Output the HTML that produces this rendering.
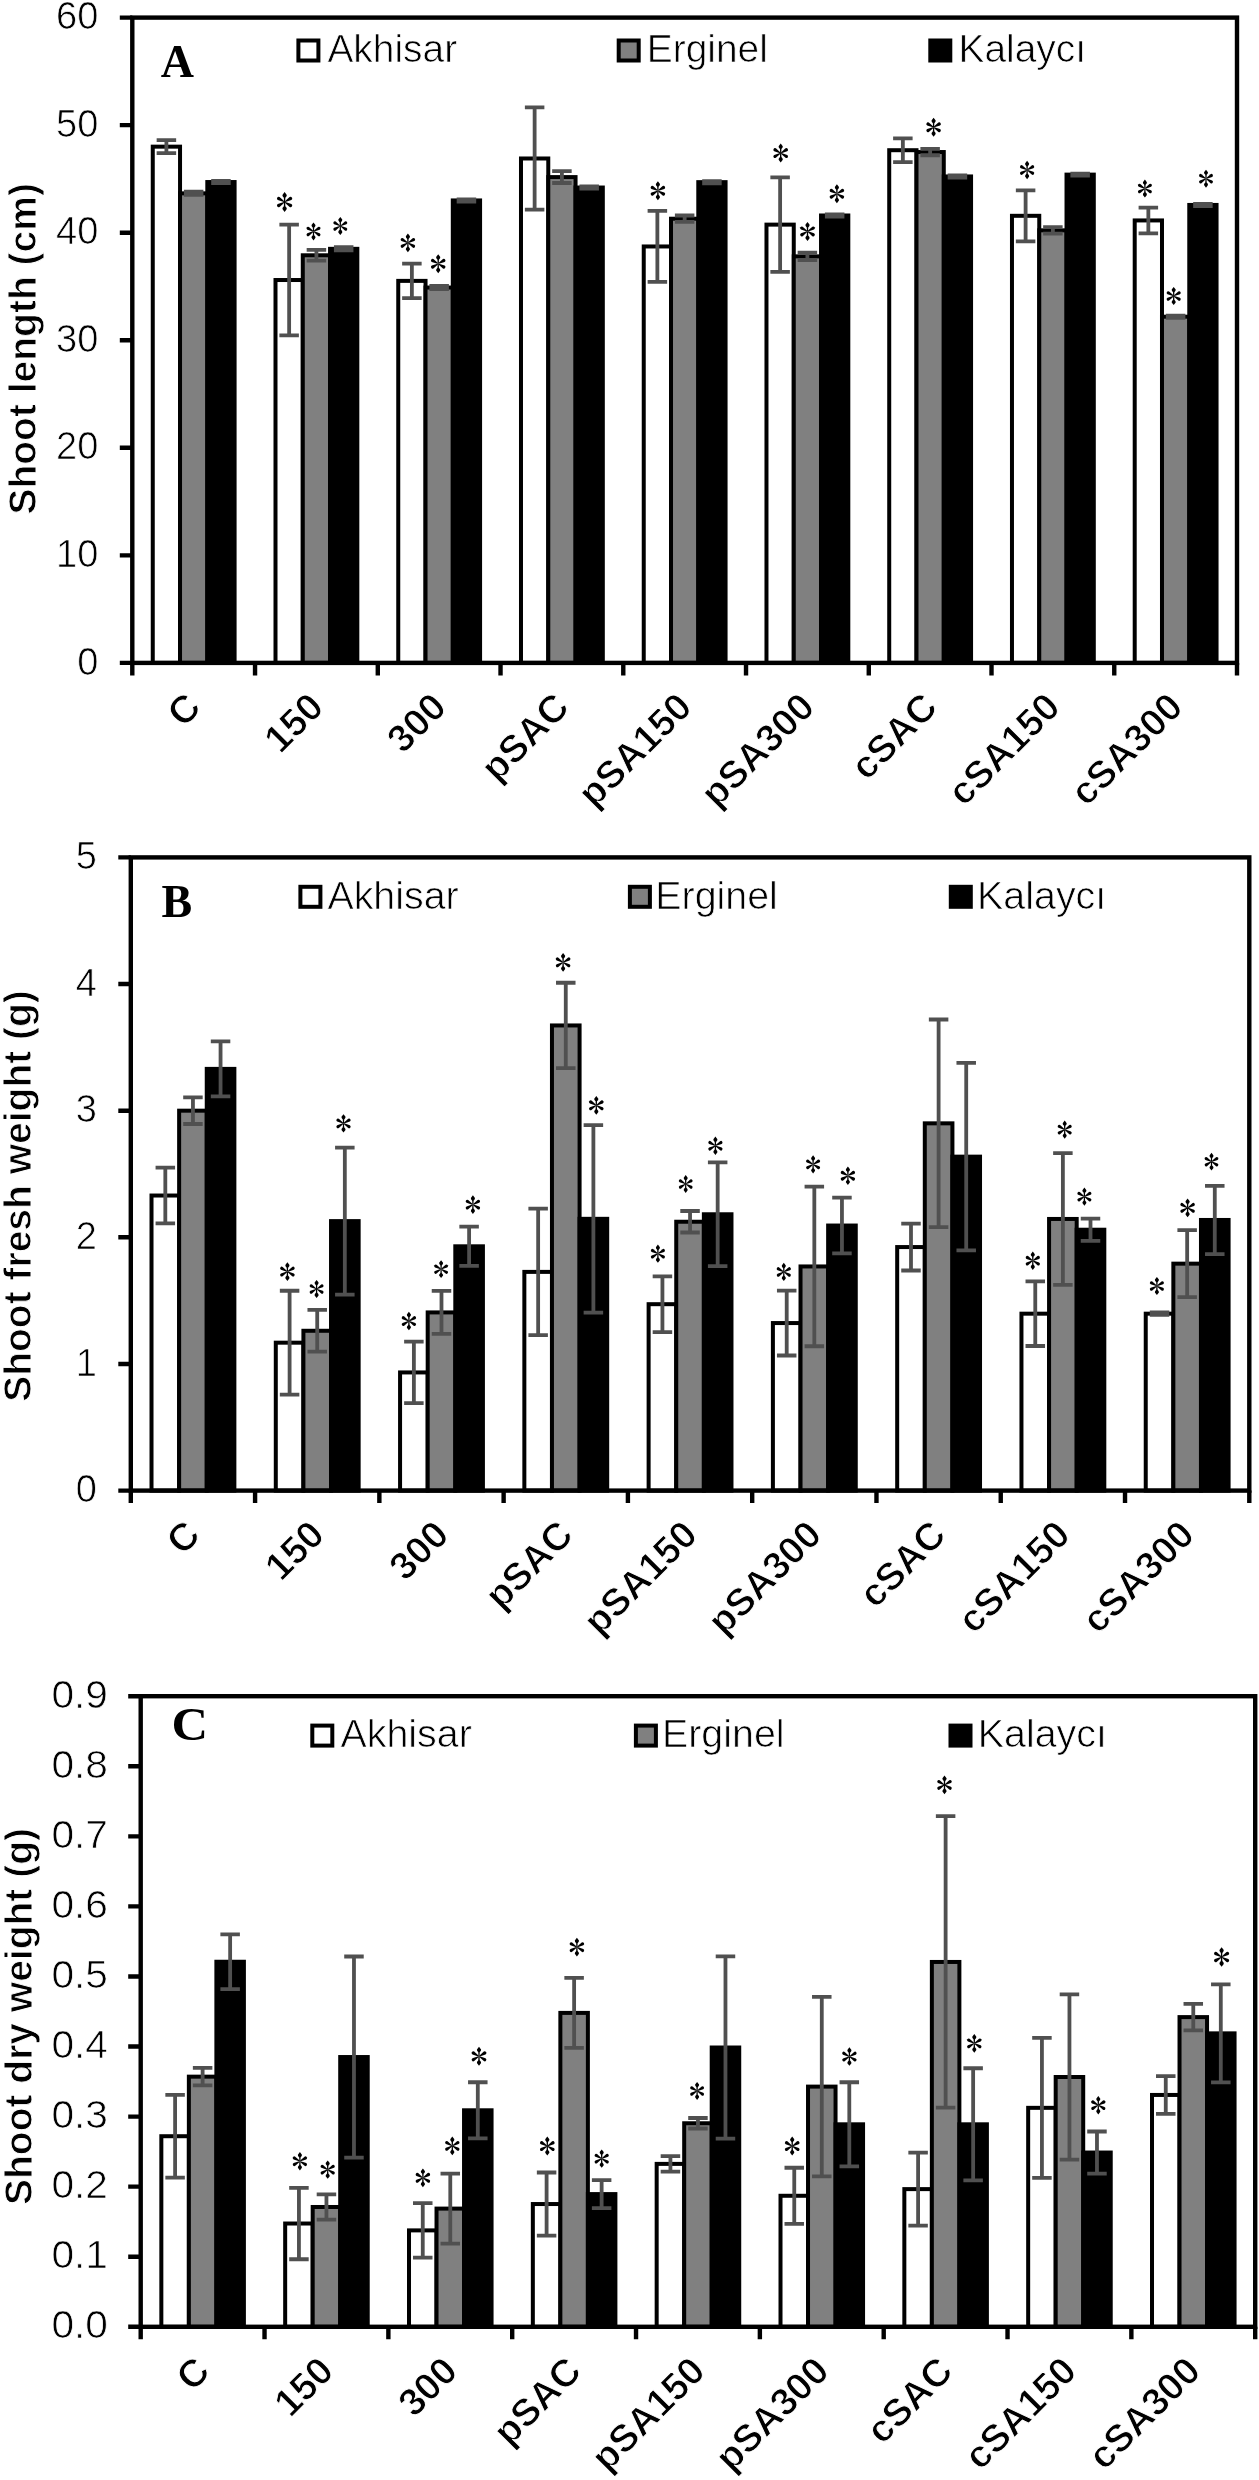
<!DOCTYPE html><html><head><meta charset="utf-8"><style>html,body{margin:0;padding:0;background:#fff;width:1259px;height:2480px;overflow:hidden}svg{display:block;filter:grayscale(1)}</style></head><body>
<svg width="1259" height="2480" viewBox="0 0 1259 2480">
<defs><g id="ast"><path d="M-0.6,0 L-0.75,-4.2 Q-2.5,-5.8 -2.2,-7.1 L0,-10 L2.2,-7.1 Q2.5,-5.8 0.75,-4.2 L0.6,0 Z"/><path d="M-0.6,0 L-0.75,4.2 Q-2.5,5.8 -2.2,7.1 L0,10 L2.2,7.1 Q2.5,5.8 0.75,4.2 L0.6,0 Z"/><path id="arm" d="M0.6,-0.45 L6.9,-1.75 A1.75,1.75 0 0 1 6.9,1.75 L0.6,0.45 Z" transform="rotate(-30.3)"/><use href="#arm" transform="scale(-1,1)"/><use href="#arm" transform="scale(1,-1)"/><use href="#arm" transform="scale(-1,-1)"/></g></defs>
<g id="panelA"><rect x="152.76" y="146.66" width="27.28" height="516.24" fill="#fff" stroke="#000" stroke-width="4"/><rect x="275.5" y="280.02" width="27.28" height="382.88" fill="#fff" stroke="#000" stroke-width="4"/><rect x="398.25" y="280.88" width="27.28" height="382.02" fill="#fff" stroke="#000" stroke-width="4"/><rect x="520.99" y="158.49" width="27.28" height="504.41" fill="#fff" stroke="#000" stroke-width="4"/><rect x="643.74" y="246.47" width="27.28" height="416.43" fill="#fff" stroke="#000" stroke-width="4"/><rect x="766.48" y="224.63" width="27.28" height="438.27" fill="#fff" stroke="#000" stroke-width="4"/><rect x="889.22" y="150.21" width="27.28" height="512.69" fill="#fff" stroke="#000" stroke-width="4"/><rect x="1011.97" y="215.81" width="27.28" height="447.09" fill="#fff" stroke="#000" stroke-width="4"/><rect x="1134.71" y="220.44" width="27.28" height="442.46" fill="#fff" stroke="#000" stroke-width="4"/><path d="M166.4,140.21V153.11M156.65,140.21h19.5M156.65,153.11h19.5" stroke="#505050" stroke-width="3.8" fill="none"/><path d="M289.14,224.63V335.41M279.39,224.63h19.5M279.39,335.41h19.5" stroke="#505050" stroke-width="3.8" fill="none"/><path d="M411.88,263.57V298.2M402.13,263.57h19.5M402.13,298.2h19.5" stroke="#505050" stroke-width="3.8" fill="none"/><path d="M534.63,107.4V209.58M524.88,107.4h19.5M524.88,209.58h19.5" stroke="#505050" stroke-width="3.8" fill="none"/><path d="M657.37,210.97V281.96M647.62,210.97h19.5M647.62,281.96h19.5" stroke="#505050" stroke-width="3.8" fill="none"/><path d="M780.12,177.31V271.96M770.37,177.31h19.5M770.37,271.96h19.5" stroke="#505050" stroke-width="3.8" fill="none"/><path d="M902.86,138.38V162.04M893.11,138.38h19.5M893.11,162.04h19.5" stroke="#505050" stroke-width="3.8" fill="none"/><path d="M1025.61,190.33V241.3M1015.86,190.33h19.5M1015.86,241.3h19.5" stroke="#505050" stroke-width="3.8" fill="none"/><path d="M1148.35,207.53V233.35M1138.6,207.53h19.5M1138.6,233.35h19.5" stroke="#505050" stroke-width="3.8" fill="none"/><rect x="180.03" y="193.34" width="27.28" height="469.56" fill="#808080" stroke="#000" stroke-width="4"/><rect x="302.78" y="255.29" width="27.28" height="407.61" fill="#808080" stroke="#000" stroke-width="4"/><rect x="425.52" y="287.55" width="27.28" height="375.35" fill="#808080" stroke="#000" stroke-width="4"/><rect x="548.27" y="177.1" width="27.28" height="485.8" fill="#808080" stroke="#000" stroke-width="4"/><rect x="671.01" y="218.72" width="27.28" height="444.18" fill="#808080" stroke="#000" stroke-width="4"/><rect x="793.76" y="256.36" width="27.28" height="406.54" fill="#808080" stroke="#000" stroke-width="4"/><rect x="916.5" y="152.04" width="27.28" height="510.86" fill="#808080" stroke="#000" stroke-width="4"/><rect x="1039.25" y="230.33" width="27.28" height="432.57" fill="#808080" stroke="#000" stroke-width="4"/><rect x="1161.99" y="316.7" width="27.28" height="346.2" fill="#808080" stroke="#000" stroke-width="4"/><path d="M193.67,191.72V194.95M183.92,191.72h19.5M183.92,194.95h19.5" stroke="#505050" stroke-width="3.8" fill="none"/><path d="M316.42,249.91V260.66M306.67,249.91h19.5M306.67,260.66h19.5" stroke="#505050" stroke-width="3.8" fill="none"/><path d="M439.16,285.94V289.16M429.41,285.94h19.5M429.41,289.16h19.5" stroke="#505050" stroke-width="3.8" fill="none"/><path d="M561.91,171.18V183.01M552.16,171.18h19.5M552.16,183.01h19.5" stroke="#505050" stroke-width="3.8" fill="none"/><path d="M684.65,215.49V221.94M674.9,215.49h19.5M674.9,221.94h19.5" stroke="#505050" stroke-width="3.8" fill="none"/><path d="M807.39,252.6V260.13M797.64,252.6h19.5M797.64,260.13h19.5" stroke="#505050" stroke-width="3.8" fill="none"/><path d="M930.14,148.81V155.26M920.39,148.81h19.5M920.39,155.26h19.5" stroke="#505050" stroke-width="3.8" fill="none"/><path d="M1052.88,227.11V233.56M1043.13,227.11h19.5M1043.13,233.56h19.5" stroke="#505050" stroke-width="3.8" fill="none"/><path d="M1175.63,315.62V317.77M1165.88,315.62h19.5M1165.88,317.77h19.5" stroke="#505050" stroke-width="3.8" fill="none"/><rect x="207.31" y="182.04" width="27.28" height="480.86" fill="#000" stroke="#000" stroke-width="4"/><rect x="330.05" y="248.83" width="27.28" height="414.07" fill="#000" stroke="#000" stroke-width="4"/><rect x="452.8" y="200.44" width="27.28" height="462.46" fill="#000" stroke="#000" stroke-width="4"/><rect x="575.54" y="187.53" width="27.28" height="475.37" fill="#000" stroke="#000" stroke-width="4"/><rect x="698.29" y="182.15" width="27.28" height="480.75" fill="#000" stroke="#000" stroke-width="4"/><rect x="821.03" y="215.49" width="27.28" height="447.41" fill="#000" stroke="#000" stroke-width="4"/><rect x="943.78" y="176.45" width="27.28" height="486.45" fill="#000" stroke="#000" stroke-width="4"/><rect x="1066.52" y="174.62" width="27.28" height="488.28" fill="#000" stroke="#000" stroke-width="4"/><rect x="1189.27" y="204.95" width="27.28" height="457.95" fill="#000" stroke="#000" stroke-width="4"/><path d="M220.95,180.97V183.12M211.2,180.97h19.5M211.2,183.12h19.5" stroke="#505050" stroke-width="3.8" fill="none"/><path d="M343.69,247.22V250.45M333.94,247.22h19.5M333.94,250.45h19.5" stroke="#505050" stroke-width="3.8" fill="none"/><path d="M466.44,199.36V201.51M456.69,199.36h19.5M456.69,201.51h19.5" stroke="#505050" stroke-width="3.8" fill="none"/><path d="M589.18,186.45V188.6M579.43,186.45h19.5M579.43,188.6h19.5" stroke="#505050" stroke-width="3.8" fill="none"/><path d="M711.93,181.08V183.23M702.18,181.08h19.5M702.18,183.23h19.5" stroke="#505050" stroke-width="3.8" fill="none"/><path d="M834.67,214.42V216.57M824.92,214.42h19.5M824.92,216.57h19.5" stroke="#505050" stroke-width="3.8" fill="none"/><path d="M957.42,175.38V177.53M947.67,175.38h19.5M947.67,177.53h19.5" stroke="#505050" stroke-width="3.8" fill="none"/><path d="M1080.16,173.55V175.7M1070.41,173.55h19.5M1070.41,175.7h19.5" stroke="#505050" stroke-width="3.8" fill="none"/><path d="M1202.9,203.88V206.03M1193.15,203.88h19.5M1193.15,206.03h19.5" stroke="#505050" stroke-width="3.8" fill="none"/><rect x="132.3" y="17.6" width="1104.7" height="645.3" fill="none" stroke="#000" stroke-width="4.4"/><path d="M119.8,662.9H132.3M119.8,555.35H132.3M119.8,447.8H132.3M119.8,340.25H132.3M119.8,232.7H132.3M119.8,125.15H132.3M119.8,17.6H132.3M132.3,662.9V675.4M255.04,662.9V675.4M377.79,662.9V675.4M500.53,662.9V675.4M623.28,662.9V675.4M746.02,662.9V675.4M868.77,662.9V675.4M991.51,662.9V675.4M1114.26,662.9V675.4M1237,662.9V675.4" stroke="#000" stroke-width="4.4" fill="none"/><text transform="translate(98.3,674.5) scale(1.0,1)" font-family="'Liberation Sans', sans-serif" stroke="#fff" stroke-width="0.7" font-size="38" text-anchor="end">0</text><text transform="translate(98.3,566.95) scale(1.0,1)" font-family="'Liberation Sans', sans-serif" stroke="#fff" stroke-width="0.7" font-size="38" text-anchor="end">10</text><text transform="translate(98.3,459.4) scale(1.0,1)" font-family="'Liberation Sans', sans-serif" stroke="#fff" stroke-width="0.7" font-size="38" text-anchor="end">20</text><text transform="translate(98.3,351.85) scale(1.0,1)" font-family="'Liberation Sans', sans-serif" stroke="#fff" stroke-width="0.7" font-size="38" text-anchor="end">30</text><text transform="translate(98.3,244.3) scale(1.0,1)" font-family="'Liberation Sans', sans-serif" stroke="#fff" stroke-width="0.7" font-size="38" text-anchor="end">40</text><text transform="translate(98.3,136.75) scale(1.0,1)" font-family="'Liberation Sans', sans-serif" stroke="#fff" stroke-width="0.7" font-size="38" text-anchor="end">50</text><text transform="translate(98.3,29.2) scale(1.0,1)" font-family="'Liberation Sans', sans-serif" stroke="#fff" stroke-width="0.7" font-size="38" text-anchor="end">60</text><use href="#ast" transform="translate(284.6,202) scale(0.99)"/><use href="#ast" transform="translate(313.5,231.45) scale(0.9)"/><use href="#ast" transform="translate(340.3,226) scale(0.9)"/><use href="#ast" transform="translate(407.9,242.9) scale(0.94)"/><use href="#ast" transform="translate(438.2,263.75) scale(0.94)"/><use href="#ast" transform="translate(657.9,190.75) scale(0.94)"/><use href="#ast" transform="translate(780.7,153.05) scale(0.95)"/><use href="#ast" transform="translate(807.5,231.45) scale(0.95)"/><use href="#ast" transform="translate(836.9,193.75) scale(0.94)"/><use href="#ast" transform="translate(933.6,127.25) scale(0.94)"/><use href="#ast" transform="translate(1027.1,170) scale(0.92)"/><use href="#ast" transform="translate(1144.9,188.55) scale(0.9)"/><use href="#ast" transform="translate(1173.7,296) scale(0.91)"/><use href="#ast" transform="translate(1206,178.65) scale(0.9)"/><text transform="translate(160.8,76.6) scale(1.0,1)" font-family="'Liberation Serif', serif" font-weight="bold" font-size="46">A</text><rect x="298.4" y="40.5" width="20" height="20" fill="#fff" stroke="#000" stroke-width="4"/><text transform="translate(327.4,62.3) scale(1.024,1)" font-family="'Liberation Sans', sans-serif" stroke="#fff" stroke-width="0.7" font-size="38">Akhisar</text><rect x="618.7" y="40.5" width="20" height="20" fill="#808080" stroke="#000" stroke-width="4"/><text transform="translate(646.8,62.3) scale(1.024,1)" font-family="'Liberation Sans', sans-serif" stroke="#fff" stroke-width="0.7" font-size="38">Erginel</text><rect x="930.3" y="40.5" width="20" height="20" fill="#000" stroke="#000" stroke-width="4"/><text transform="translate(958.5,62.3) scale(1.024,1)" font-family="'Liberation Sans', sans-serif" stroke="#fff" stroke-width="0.7" font-size="38">Kalaycı</text><text transform="translate(202.97,709.2) rotate(-45)" font-family="'Liberation Sans', sans-serif" font-weight="bold" stroke="#fff" stroke-width="0.9" font-size="38.5" text-anchor="end">C</text><text transform="translate(325.72,709.2) rotate(-45)" font-family="'Liberation Sans', sans-serif" font-weight="bold" stroke="#fff" stroke-width="0.9" font-size="38.5" text-anchor="end">150</text><text transform="translate(448.46,709.2) rotate(-45)" font-family="'Liberation Sans', sans-serif" font-weight="bold" stroke="#fff" stroke-width="0.9" font-size="38.5" text-anchor="end">300</text><text transform="translate(571.21,709.2) rotate(-45)" font-family="'Liberation Sans', sans-serif" font-weight="bold" stroke="#fff" stroke-width="0.9" font-size="38.5" text-anchor="end">pSAC</text><text transform="translate(693.95,709.2) rotate(-45)" font-family="'Liberation Sans', sans-serif" font-weight="bold" stroke="#fff" stroke-width="0.9" font-size="38.5" text-anchor="end">pSA150</text><text transform="translate(816.69,709.2) rotate(-45)" font-family="'Liberation Sans', sans-serif" font-weight="bold" stroke="#fff" stroke-width="0.9" font-size="38.5" text-anchor="end">pSA300</text><text transform="translate(939.44,709.2) rotate(-45)" font-family="'Liberation Sans', sans-serif" font-weight="bold" stroke="#fff" stroke-width="0.9" font-size="38.5" text-anchor="end">cSAC</text><text transform="translate(1062.18,709.2) rotate(-45)" font-family="'Liberation Sans', sans-serif" font-weight="bold" stroke="#fff" stroke-width="0.9" font-size="38.5" text-anchor="end">cSA150</text><text transform="translate(1184.93,709.2) rotate(-45)" font-family="'Liberation Sans', sans-serif" font-weight="bold" stroke="#fff" stroke-width="0.9" font-size="38.5" text-anchor="end">cSA300</text></g>
<g id="panelB"><rect x="151.51" y="1195.53" width="27.62" height="295.07" fill="#fff" stroke="#000" stroke-width="4"/><rect x="275.79" y="1342.68" width="27.62" height="147.92" fill="#fff" stroke="#000" stroke-width="4"/><rect x="400.07" y="1372.44" width="27.62" height="118.16" fill="#fff" stroke="#000" stroke-width="4"/><rect x="524.35" y="1271.89" width="27.62" height="218.71" fill="#fff" stroke="#000" stroke-width="4"/><rect x="648.62" y="1304.19" width="27.62" height="186.41" fill="#fff" stroke="#000" stroke-width="4"/><rect x="772.9" y="1323.06" width="27.62" height="167.54" fill="#fff" stroke="#000" stroke-width="4"/><rect x="897.18" y="1247.07" width="27.62" height="243.53" fill="#fff" stroke="#000" stroke-width="4"/><rect x="1021.46" y="1313.68" width="27.62" height="176.92" fill="#fff" stroke="#000" stroke-width="4"/><rect x="1145.74" y="1313.68" width="27.62" height="176.92" fill="#fff" stroke="#000" stroke-width="4"/><path d="M165.32,1167.67V1223.39M155.57,1167.67h19.5M155.57,1223.39h19.5" stroke="#505050" stroke-width="3.8" fill="none"/><path d="M289.6,1290.76V1394.61M279.85,1290.76h19.5M279.85,1394.61h19.5" stroke="#505050" stroke-width="3.8" fill="none"/><path d="M413.88,1341.67V1403.22M404.13,1341.67h19.5M404.13,1403.22h19.5" stroke="#505050" stroke-width="3.8" fill="none"/><path d="M538.15,1208.57V1335.21M528.4,1208.57h19.5M528.4,1335.21h19.5" stroke="#505050" stroke-width="3.8" fill="none"/><path d="M662.43,1276.33V1332.05M652.68,1276.33h19.5M652.68,1332.05h19.5" stroke="#505050" stroke-width="3.8" fill="none"/><path d="M786.71,1290.64V1355.48M776.96,1290.64h19.5M776.96,1355.48h19.5" stroke="#505050" stroke-width="3.8" fill="none"/><path d="M910.99,1223.64V1270.5M901.24,1223.64h19.5M901.24,1270.5h19.5" stroke="#505050" stroke-width="3.8" fill="none"/><path d="M1035.27,1281.39V1345.98M1025.52,1281.39h19.5M1025.52,1345.98h19.5" stroke="#505050" stroke-width="3.8" fill="none"/><path d="M1159.54,1312.42V1314.95M1149.79,1312.42h19.5M1149.79,1314.95h19.5" stroke="#505050" stroke-width="3.8" fill="none"/><rect x="179.13" y="1110.68" width="27.62" height="379.92" fill="#808080" stroke="#000" stroke-width="4"/><rect x="303.41" y="1330.78" width="27.62" height="159.82" fill="#808080" stroke="#000" stroke-width="4"/><rect x="427.69" y="1312.42" width="27.62" height="178.18" fill="#808080" stroke="#000" stroke-width="4"/><rect x="551.96" y="1025.45" width="27.62" height="465.15" fill="#808080" stroke="#000" stroke-width="4"/><rect x="676.24" y="1221.74" width="27.62" height="268.86" fill="#808080" stroke="#000" stroke-width="4"/><rect x="800.52" y="1266.45" width="27.62" height="224.15" fill="#808080" stroke="#000" stroke-width="4"/><rect x="924.8" y="1123.34" width="27.62" height="367.26" fill="#808080" stroke="#000" stroke-width="4"/><rect x="1049.07" y="1218.96" width="27.62" height="271.64" fill="#808080" stroke="#000" stroke-width="4"/><rect x="1173.35" y="1263.66" width="27.62" height="226.94" fill="#808080" stroke="#000" stroke-width="4"/><path d="M192.94,1097.38V1123.98M183.19,1097.38h19.5M183.19,1123.98h19.5" stroke="#505050" stroke-width="3.8" fill="none"/><path d="M317.22,1309.88V1351.68M307.47,1309.88h19.5M307.47,1351.68h19.5" stroke="#505050" stroke-width="3.8" fill="none"/><path d="M441.49,1290.89V1333.95M431.74,1290.89h19.5M431.74,1333.95h19.5" stroke="#505050" stroke-width="3.8" fill="none"/><path d="M565.77,982.77V1068.13M556.02,982.77h19.5M556.02,1068.13h19.5" stroke="#505050" stroke-width="3.8" fill="none"/><path d="M690.05,1210.98V1232.51M680.3,1210.98h19.5M680.3,1232.51h19.5" stroke="#505050" stroke-width="3.8" fill="none"/><path d="M814.33,1186.66V1346.23M804.58,1186.66h19.5M804.58,1346.23h19.5" stroke="#505050" stroke-width="3.8" fill="none"/><path d="M938.61,1019.5V1227.19M928.86,1019.5h19.5M928.86,1227.19h19.5" stroke="#505050" stroke-width="3.8" fill="none"/><path d="M1062.88,1153.1V1284.81M1053.13,1153.1h19.5M1053.13,1284.81h19.5" stroke="#505050" stroke-width="3.8" fill="none"/><path d="M1187.16,1230.1V1297.22M1177.41,1230.1h19.5M1177.41,1297.22h19.5" stroke="#505050" stroke-width="3.8" fill="none"/><rect x="206.75" y="1068.89" width="27.62" height="421.71" fill="#000" stroke="#000" stroke-width="4"/><rect x="331.03" y="1221.11" width="27.62" height="269.49" fill="#000" stroke="#000" stroke-width="4"/><rect x="455.3" y="1246.31" width="27.62" height="244.29" fill="#000" stroke="#000" stroke-width="4"/><rect x="579.58" y="1218.83" width="27.62" height="271.77" fill="#000" stroke="#000" stroke-width="4"/><rect x="703.86" y="1214.27" width="27.62" height="276.33" fill="#000" stroke="#000" stroke-width="4"/><rect x="828.14" y="1225.54" width="27.62" height="265.06" fill="#000" stroke="#000" stroke-width="4"/><rect x="952.41" y="1156.65" width="27.62" height="333.95" fill="#000" stroke="#000" stroke-width="4"/><rect x="1076.69" y="1229.72" width="27.62" height="260.88" fill="#000" stroke="#000" stroke-width="4"/><rect x="1200.97" y="1219.97" width="27.62" height="270.63" fill="#000" stroke="#000" stroke-width="4"/><path d="M220.56,1041.41V1096.37M210.81,1041.41h19.5M210.81,1096.37h19.5" stroke="#505050" stroke-width="3.8" fill="none"/><path d="M344.83,1147.66V1294.56M335.08,1147.66h19.5M335.08,1294.56h19.5" stroke="#505050" stroke-width="3.8" fill="none"/><path d="M469.11,1226.68V1265.94M459.36,1226.68h19.5M459.36,1265.94h19.5" stroke="#505050" stroke-width="3.8" fill="none"/><path d="M593.39,1125.12V1312.54M583.64,1125.12h19.5M583.64,1312.54h19.5" stroke="#505050" stroke-width="3.8" fill="none"/><path d="M717.67,1162.35V1266.19M707.92,1162.35h19.5M707.92,1266.19h19.5" stroke="#505050" stroke-width="3.8" fill="none"/><path d="M841.95,1197.68V1253.4M832.2,1197.68h19.5M832.2,1253.4h19.5" stroke="#505050" stroke-width="3.8" fill="none"/><path d="M966.22,1062.94V1250.36M956.47,1062.94h19.5M956.47,1250.36h19.5" stroke="#505050" stroke-width="3.8" fill="none"/><path d="M1090.5,1218.58V1240.87M1080.75,1218.58h19.5M1080.75,1240.87h19.5" stroke="#505050" stroke-width="3.8" fill="none"/><path d="M1214.78,1185.78V1254.16M1205.03,1185.78h19.5M1205.03,1254.16h19.5" stroke="#505050" stroke-width="3.8" fill="none"/><rect x="130.8" y="857.4" width="1118.5" height="633.2" fill="none" stroke="#000" stroke-width="4.4"/><path d="M118.3,1490.6H130.8M118.3,1363.96H130.8M118.3,1237.32H130.8M118.3,1110.68H130.8M118.3,984.04H130.8M118.3,857.4H130.8M130.8,1490.6V1503.1M255.08,1490.6V1503.1M379.36,1490.6V1503.1M503.63,1490.6V1503.1M627.91,1490.6V1503.1M752.19,1490.6V1503.1M876.47,1490.6V1503.1M1000.74,1490.6V1503.1M1125.02,1490.6V1503.1M1249.3,1490.6V1503.1" stroke="#000" stroke-width="4.4" fill="none"/><text transform="translate(96.8,1502.2) scale(1.0,1)" font-family="'Liberation Sans', sans-serif" stroke="#fff" stroke-width="0.7" font-size="38" text-anchor="end">0</text><text transform="translate(96.8,1375.56) scale(1.0,1)" font-family="'Liberation Sans', sans-serif" stroke="#fff" stroke-width="0.7" font-size="38" text-anchor="end">1</text><text transform="translate(96.8,1248.92) scale(1.0,1)" font-family="'Liberation Sans', sans-serif" stroke="#fff" stroke-width="0.7" font-size="38" text-anchor="end">2</text><text transform="translate(96.8,1122.28) scale(1.0,1)" font-family="'Liberation Sans', sans-serif" stroke="#fff" stroke-width="0.7" font-size="38" text-anchor="end">3</text><text transform="translate(96.8,995.64) scale(1.0,1)" font-family="'Liberation Sans', sans-serif" stroke="#fff" stroke-width="0.7" font-size="38" text-anchor="end">4</text><text transform="translate(96.8,869) scale(1.0,1)" font-family="'Liberation Sans', sans-serif" stroke="#fff" stroke-width="0.7" font-size="38" text-anchor="end">5</text><use href="#ast" transform="translate(287.4,1271.6) scale(0.94)"/><use href="#ast" transform="translate(316.6,1289) scale(0.9)"/><use href="#ast" transform="translate(343.5,1123.4) scale(0.92)"/><use href="#ast" transform="translate(408.9,1321.05) scale(0.93)"/><use href="#ast" transform="translate(441.1,1269.15) scale(0.89)"/><use href="#ast" transform="translate(472.9,1204.6) scale(0.93)"/><use href="#ast" transform="translate(563.1,962.35) scale(0.94)"/><use href="#ast" transform="translate(596.3,1105.3) scale(0.94)"/><use href="#ast" transform="translate(657.9,1253.7) scale(0.91)"/><use href="#ast" transform="translate(685.7,1184) scale(0.89)"/><use href="#ast" transform="translate(715.4,1145.75) scale(0.92)"/><use href="#ast" transform="translate(783.8,1271.95) scale(0.91)"/><use href="#ast" transform="translate(813.1,1164.35) scale(0.91)"/><use href="#ast" transform="translate(847.9,1175.75) scale(0.93)"/><use href="#ast" transform="translate(1032.8,1260.7) scale(0.92)"/><use href="#ast" transform="translate(1064.7,1129.65) scale(0.91)"/><use href="#ast" transform="translate(1084.4,1196.65) scale(0.91)"/><use href="#ast" transform="translate(1156.9,1286) scale(0.91)"/><use href="#ast" transform="translate(1187.6,1207.85) scale(0.94)"/><use href="#ast" transform="translate(1211.5,1161.7) scale(0.89)"/><text transform="translate(161.6,916.5) scale(1.0,1)" font-family="'Liberation Serif', serif" font-weight="bold" font-size="46">B</text><rect x="300.4" y="886.8" width="20" height="20" fill="#fff" stroke="#000" stroke-width="4"/><text transform="translate(327.4,908.9) scale(1.036,1)" font-family="'Liberation Sans', sans-serif" stroke="#fff" stroke-width="0.7" font-size="38">Akhisar</text><rect x="629.9" y="886.8" width="20" height="20" fill="#808080" stroke="#000" stroke-width="4"/><text transform="translate(655.3,908.9) scale(1.036,1)" font-family="'Liberation Sans', sans-serif" stroke="#fff" stroke-width="0.7" font-size="38">Erginel</text><rect x="950.8" y="886.8" width="20" height="20" fill="#000" stroke="#000" stroke-width="4"/><text transform="translate(977.1,908.9) scale(1.036,1)" font-family="'Liberation Sans', sans-serif" stroke="#fff" stroke-width="0.7" font-size="38">Kalaycı</text><text transform="translate(202.24,1536.9) rotate(-45)" font-family="'Liberation Sans', sans-serif" font-weight="bold" stroke="#fff" stroke-width="0.9" font-size="38.5" text-anchor="end">C</text><text transform="translate(326.52,1536.9) rotate(-45)" font-family="'Liberation Sans', sans-serif" font-weight="bold" stroke="#fff" stroke-width="0.9" font-size="38.5" text-anchor="end">150</text><text transform="translate(450.79,1536.9) rotate(-45)" font-family="'Liberation Sans', sans-serif" font-weight="bold" stroke="#fff" stroke-width="0.9" font-size="38.5" text-anchor="end">300</text><text transform="translate(575.07,1536.9) rotate(-45)" font-family="'Liberation Sans', sans-serif" font-weight="bold" stroke="#fff" stroke-width="0.9" font-size="38.5" text-anchor="end">pSAC</text><text transform="translate(699.35,1536.9) rotate(-45)" font-family="'Liberation Sans', sans-serif" font-weight="bold" stroke="#fff" stroke-width="0.9" font-size="38.5" text-anchor="end">pSA150</text><text transform="translate(823.63,1536.9) rotate(-45)" font-family="'Liberation Sans', sans-serif" font-weight="bold" stroke="#fff" stroke-width="0.9" font-size="38.5" text-anchor="end">pSA300</text><text transform="translate(947.91,1536.9) rotate(-45)" font-family="'Liberation Sans', sans-serif" font-weight="bold" stroke="#fff" stroke-width="0.9" font-size="38.5" text-anchor="end">cSAC</text><text transform="translate(1072.18,1536.9) rotate(-45)" font-family="'Liberation Sans', sans-serif" font-weight="bold" stroke="#fff" stroke-width="0.9" font-size="38.5" text-anchor="end">cSA150</text><text transform="translate(1196.46,1536.9) rotate(-45)" font-family="'Liberation Sans', sans-serif" font-weight="bold" stroke="#fff" stroke-width="0.9" font-size="38.5" text-anchor="end">cSA300</text></g>
<g id="panelC"><rect x="161.34" y="2136.22" width="27.52" height="190.58" fill="#fff" stroke="#000" stroke-width="4"/><rect x="285.17" y="2223.52" width="27.52" height="103.28" fill="#fff" stroke="#000" stroke-width="4"/><rect x="409.01" y="2230.39" width="27.52" height="96.41" fill="#fff" stroke="#000" stroke-width="4"/><rect x="532.84" y="2204.04" width="27.52" height="122.76" fill="#fff" stroke="#000" stroke-width="4"/><rect x="656.67" y="2163.89" width="27.52" height="162.91" fill="#fff" stroke="#000" stroke-width="4"/><rect x="780.51" y="2195.78" width="27.52" height="131.02" fill="#fff" stroke="#000" stroke-width="4"/><rect x="904.34" y="2189.12" width="27.52" height="137.68" fill="#fff" stroke="#000" stroke-width="4"/><rect x="1028.17" y="2107.84" width="27.52" height="218.96" fill="#fff" stroke="#000" stroke-width="4"/><rect x="1152.01" y="2094.95" width="27.52" height="231.85" fill="#fff" stroke="#000" stroke-width="4"/><path d="M175.1,2094.88V2177.56M165.35,2094.88h19.5M165.35,2177.56h19.5" stroke="#505050" stroke-width="3.8" fill="none"/><path d="M298.93,2187.79V2259.26M289.18,2187.79h19.5M289.18,2259.26h19.5" stroke="#505050" stroke-width="3.8" fill="none"/><path d="M422.76,2203.06V2257.71M413.01,2203.06h19.5M413.01,2257.71h19.5" stroke="#505050" stroke-width="3.8" fill="none"/><path d="M546.6,2172.51V2235.57M536.85,2172.51h19.5M536.85,2235.57h19.5" stroke="#505050" stroke-width="3.8" fill="none"/><path d="M670.43,2156.19V2171.6M660.68,2156.19h19.5M660.68,2171.6h19.5" stroke="#505050" stroke-width="3.8" fill="none"/><path d="M794.26,2167.75V2223.8M784.51,2167.75h19.5M784.51,2223.8h19.5" stroke="#505050" stroke-width="3.8" fill="none"/><path d="M918.1,2152.68V2225.55M908.35,2152.68h19.5M908.35,2225.55h19.5" stroke="#505050" stroke-width="3.8" fill="none"/><path d="M1041.93,2037.78V2177.91M1032.18,2037.78h19.5M1032.18,2177.91h19.5" stroke="#505050" stroke-width="3.8" fill="none"/><path d="M1165.76,2076.03V2113.87M1156.01,2076.03h19.5M1156.01,2113.87h19.5" stroke="#505050" stroke-width="3.8" fill="none"/><rect x="188.86" y="2076.66" width="27.52" height="250.14" fill="#808080" stroke="#000" stroke-width="4"/><rect x="312.69" y="2206.99" width="27.52" height="119.81" fill="#808080" stroke="#000" stroke-width="4"/><rect x="436.52" y="2208.6" width="27.52" height="118.2" fill="#808080" stroke="#000" stroke-width="4"/><rect x="560.36" y="2012.9" width="27.52" height="313.9" fill="#808080" stroke="#000" stroke-width="4"/><rect x="684.19" y="2123.26" width="27.52" height="203.54" fill="#808080" stroke="#000" stroke-width="4"/><rect x="808.02" y="2086.61" width="27.52" height="240.19" fill="#808080" stroke="#000" stroke-width="4"/><rect x="931.86" y="1961.96" width="27.52" height="364.84" fill="#808080" stroke="#000" stroke-width="4"/><rect x="1055.69" y="2077.01" width="27.52" height="249.79" fill="#808080" stroke="#000" stroke-width="4"/><rect x="1179.52" y="2017.11" width="27.52" height="309.69" fill="#808080" stroke="#000" stroke-width="4"/><path d="M202.62,2067.9V2085.42M192.87,2067.9h19.5M192.87,2085.42h19.5" stroke="#505050" stroke-width="3.8" fill="none"/><path d="M326.45,2194.37V2219.6M316.7,2194.37h19.5M316.7,2219.6h19.5" stroke="#505050" stroke-width="3.8" fill="none"/><path d="M450.28,2173.56V2243.63M440.53,2173.56h19.5M440.53,2243.63h19.5" stroke="#505050" stroke-width="3.8" fill="none"/><path d="M574.12,1977.87V2047.93M564.37,1977.87h19.5M564.37,2047.93h19.5" stroke="#505050" stroke-width="3.8" fill="none"/><path d="M697.95,2118V2128.51M688.2,2118h19.5M688.2,2128.51h19.5" stroke="#505050" stroke-width="3.8" fill="none"/><path d="M821.78,1996.93V2176.3M812.03,1996.93h19.5M812.03,2176.3h19.5" stroke="#505050" stroke-width="3.8" fill="none"/><path d="M945.62,1816.22V2107.7M935.87,1816.22h19.5M935.87,2107.7h19.5" stroke="#505050" stroke-width="3.8" fill="none"/><path d="M1069.45,1994.33V2159.69M1059.7,1994.33h19.5M1059.7,2159.69h19.5" stroke="#505050" stroke-width="3.8" fill="none"/><path d="M1193.28,2003.79V2030.42M1183.53,2003.79h19.5M1183.53,2030.42h19.5" stroke="#505050" stroke-width="3.8" fill="none"/><rect x="216.38" y="1961.75" width="27.52" height="365.05" fill="#000" stroke="#000" stroke-width="4"/><rect x="340.21" y="2057.04" width="27.52" height="269.76" fill="#000" stroke="#000" stroke-width="4"/><rect x="464.04" y="2110.29" width="27.52" height="216.51" fill="#000" stroke="#000" stroke-width="4"/><rect x="587.88" y="2194.09" width="27.52" height="132.71" fill="#000" stroke="#000" stroke-width="4"/><rect x="711.71" y="2047.51" width="27.52" height="279.29" fill="#000" stroke="#000" stroke-width="4"/><rect x="835.54" y="2124.31" width="27.52" height="202.49" fill="#000" stroke="#000" stroke-width="4"/><rect x="959.38" y="2124.31" width="27.52" height="202.49" fill="#000" stroke="#000" stroke-width="4"/><rect x="1083.21" y="2152.54" width="27.52" height="174.26" fill="#000" stroke="#000" stroke-width="4"/><rect x="1207.04" y="2033.36" width="27.52" height="293.44" fill="#000" stroke="#000" stroke-width="4"/><path d="M230.14,1934.43V1989.08M220.39,1934.43h19.5M220.39,1989.08h19.5" stroke="#505050" stroke-width="3.8" fill="none"/><path d="M353.97,1956.5V2157.59M344.22,1956.5h19.5M344.22,2157.59h19.5" stroke="#505050" stroke-width="3.8" fill="none"/><path d="M477.8,2082.27V2138.32M468.05,2082.27h19.5M468.05,2138.32h19.5" stroke="#505050" stroke-width="3.8" fill="none"/><path d="M601.64,2180.08V2208.11M591.89,2180.08h19.5M591.89,2208.11h19.5" stroke="#505050" stroke-width="3.8" fill="none"/><path d="M725.47,1956.43V2138.6M715.72,1956.43h19.5M715.72,2138.6h19.5" stroke="#505050" stroke-width="3.8" fill="none"/><path d="M849.3,2082.27V2166.35M839.55,2082.27h19.5M839.55,2166.35h19.5" stroke="#505050" stroke-width="3.8" fill="none"/><path d="M973.14,2068.25V2180.36M963.39,2068.25h19.5M963.39,2180.36h19.5" stroke="#505050" stroke-width="3.8" fill="none"/><path d="M1096.97,2131.52V2173.56M1087.22,2131.52h19.5M1087.22,2173.56h19.5" stroke="#505050" stroke-width="3.8" fill="none"/><path d="M1220.8,1984.31V2082.41M1211.05,1984.31h19.5M1211.05,2082.41h19.5" stroke="#505050" stroke-width="3.8" fill="none"/><rect x="140.7" y="1696.2" width="1114.5" height="630.6" fill="none" stroke="#000" stroke-width="4.4"/><path d="M128.2,2326.8H140.7M128.2,2256.73H140.7M128.2,2186.67H140.7M128.2,2116.6H140.7M128.2,2046.53H140.7M128.2,1976.47H140.7M128.2,1906.4H140.7M128.2,1836.33H140.7M128.2,1766.27H140.7M128.2,1696.2H140.7M140.7,2326.8V2339.3M264.53,2326.8V2339.3M388.37,2326.8V2339.3M512.2,2326.8V2339.3M636.03,2326.8V2339.3M759.87,2326.8V2339.3M883.7,2326.8V2339.3M1007.53,2326.8V2339.3M1131.37,2326.8V2339.3M1255.2,2326.8V2339.3" stroke="#000" stroke-width="4.4" fill="none"/><text transform="translate(107.9,2338.4) scale(1.07,1)" font-family="'Liberation Sans', sans-serif" stroke="#fff" stroke-width="0.7" font-size="38" text-anchor="end">0.0</text><text transform="translate(107.9,2268.33) scale(1.07,1)" font-family="'Liberation Sans', sans-serif" stroke="#fff" stroke-width="0.7" font-size="38" text-anchor="end">0.1</text><text transform="translate(107.9,2198.27) scale(1.07,1)" font-family="'Liberation Sans', sans-serif" stroke="#fff" stroke-width="0.7" font-size="38" text-anchor="end">0.2</text><text transform="translate(107.9,2128.2) scale(1.07,1)" font-family="'Liberation Sans', sans-serif" stroke="#fff" stroke-width="0.7" font-size="38" text-anchor="end">0.3</text><text transform="translate(107.9,2058.13) scale(1.07,1)" font-family="'Liberation Sans', sans-serif" stroke="#fff" stroke-width="0.7" font-size="38" text-anchor="end">0.4</text><text transform="translate(107.9,1988.07) scale(1.07,1)" font-family="'Liberation Sans', sans-serif" stroke="#fff" stroke-width="0.7" font-size="38" text-anchor="end">0.5</text><text transform="translate(107.9,1918) scale(1.07,1)" font-family="'Liberation Sans', sans-serif" stroke="#fff" stroke-width="0.7" font-size="38" text-anchor="end">0.6</text><text transform="translate(107.9,1847.93) scale(1.07,1)" font-family="'Liberation Sans', sans-serif" stroke="#fff" stroke-width="0.7" font-size="38" text-anchor="end">0.7</text><text transform="translate(107.9,1777.87) scale(1.07,1)" font-family="'Liberation Sans', sans-serif" stroke="#fff" stroke-width="0.7" font-size="38" text-anchor="end">0.8</text><text transform="translate(107.9,1707.8) scale(1.07,1)" font-family="'Liberation Sans', sans-serif" stroke="#fff" stroke-width="0.7" font-size="38" text-anchor="end">0.9</text><use href="#ast" transform="translate(299.9,2161.25) scale(0.92)"/><use href="#ast" transform="translate(327.7,2169.65) scale(0.92)"/><use href="#ast" transform="translate(422.9,2177.8) scale(0.94)"/><use href="#ast" transform="translate(452.3,2145.85) scale(0.93)"/><use href="#ast" transform="translate(479,2056.35) scale(0.95)"/><use href="#ast" transform="translate(547.3,2146.05) scale(0.95)"/><use href="#ast" transform="translate(576.9,1947.15) scale(0.94)"/><use href="#ast" transform="translate(601.7,2158.65) scale(0.92)"/><use href="#ast" transform="translate(697.1,2090.95) scale(0.9)"/><use href="#ast" transform="translate(792.2,2146.05) scale(0.95)"/><use href="#ast" transform="translate(849.4,2056.55) scale(0.93)"/><use href="#ast" transform="translate(944.5,1784.9) scale(0.94)"/><use href="#ast" transform="translate(974.3,2043.4) scale(0.93)"/><use href="#ast" transform="translate(1098.3,2105.2) scale(0.92)"/><use href="#ast" transform="translate(1221.6,1957) scale(0.98)"/><text transform="translate(171.6,1740.2) scale(1.1,1)" font-family="'Liberation Serif', serif" font-weight="bold" font-size="46">C</text><rect x="312.3" y="1725.6" width="20" height="20" fill="#fff" stroke="#000" stroke-width="4"/><text transform="translate(340.5,1747.3) scale(1.036,1)" font-family="'Liberation Sans', sans-serif" stroke="#fff" stroke-width="0.7" font-size="38">Akhisar</text><rect x="635.9" y="1725.6" width="20" height="20" fill="#808080" stroke="#000" stroke-width="4"/><text transform="translate(662,1747.3) scale(1.036,1)" font-family="'Liberation Sans', sans-serif" stroke="#fff" stroke-width="0.7" font-size="38">Erginel</text><rect x="950.5" y="1725.6" width="20" height="20" fill="#000" stroke="#000" stroke-width="4"/><text transform="translate(977.8,1747.3) scale(1.036,1)" font-family="'Liberation Sans', sans-serif" stroke="#fff" stroke-width="0.7" font-size="38">Kalaycı</text><text transform="translate(211.92,2373.1) rotate(-45)" font-family="'Liberation Sans', sans-serif" font-weight="bold" stroke="#fff" stroke-width="0.9" font-size="38.5" text-anchor="end">C</text><text transform="translate(335.75,2373.1) rotate(-45)" font-family="'Liberation Sans', sans-serif" font-weight="bold" stroke="#fff" stroke-width="0.9" font-size="38.5" text-anchor="end">150</text><text transform="translate(459.58,2373.1) rotate(-45)" font-family="'Liberation Sans', sans-serif" font-weight="bold" stroke="#fff" stroke-width="0.9" font-size="38.5" text-anchor="end">300</text><text transform="translate(583.42,2373.1) rotate(-45)" font-family="'Liberation Sans', sans-serif" font-weight="bold" stroke="#fff" stroke-width="0.9" font-size="38.5" text-anchor="end">pSAC</text><text transform="translate(707.25,2373.1) rotate(-45)" font-family="'Liberation Sans', sans-serif" font-weight="bold" stroke="#fff" stroke-width="0.9" font-size="38.5" text-anchor="end">pSA150</text><text transform="translate(831.08,2373.1) rotate(-45)" font-family="'Liberation Sans', sans-serif" font-weight="bold" stroke="#fff" stroke-width="0.9" font-size="38.5" text-anchor="end">pSA300</text><text transform="translate(954.92,2373.1) rotate(-45)" font-family="'Liberation Sans', sans-serif" font-weight="bold" stroke="#fff" stroke-width="0.9" font-size="38.5" text-anchor="end">cSAC</text><text transform="translate(1078.75,2373.1) rotate(-45)" font-family="'Liberation Sans', sans-serif" font-weight="bold" stroke="#fff" stroke-width="0.9" font-size="38.5" text-anchor="end">cSA150</text><text transform="translate(1202.58,2373.1) rotate(-45)" font-family="'Liberation Sans', sans-serif" font-weight="bold" stroke="#fff" stroke-width="0.9" font-size="38.5" text-anchor="end">cSA300</text></g>
<text transform="translate(36.2,348.8) rotate(-90) scale(1.0,1)" font-family="'Liberation Sans', sans-serif" font-weight="bold" stroke="#fff" stroke-width="0.9" font-size="39" text-anchor="middle">Shoot length (cm)</text>
<text transform="translate(30.6,1196) rotate(-90) scale(1.0,1)" font-family="'Liberation Sans', sans-serif" font-weight="bold" stroke="#fff" stroke-width="0.9" font-size="39" text-anchor="middle">Shoot fresh weight (g)</text>
<text transform="translate(32,2016.5) rotate(-90) scale(1.0,1)" font-family="'Liberation Sans', sans-serif" font-weight="bold" stroke="#fff" stroke-width="0.9" font-size="39" text-anchor="middle">Shoot dry weight (g)</text>
</svg></body></html>
